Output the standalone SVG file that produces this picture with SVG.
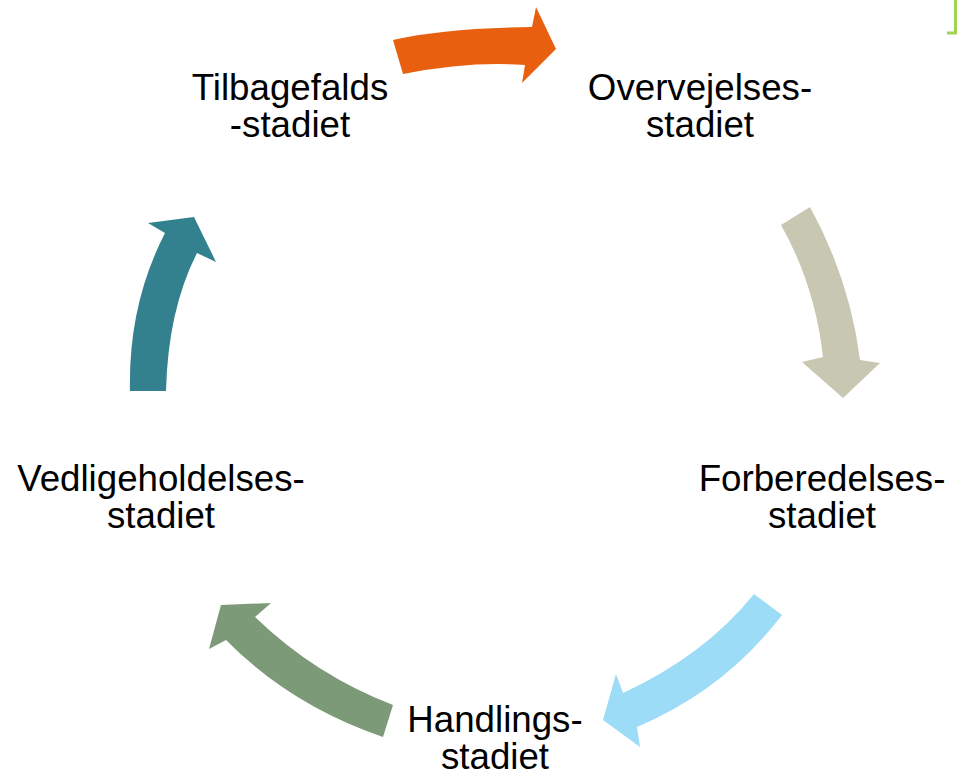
<svg xmlns="http://www.w3.org/2000/svg" width="957" height="777" viewBox="0 0 957 777">
<style>
.lbl{font-family:"Liberation Sans",Arial,sans-serif;font-size:36.7px;fill:#000;text-anchor:middle}
</style>
<rect width="957" height="777" fill="#fff"/>
<g id="corner-mark">
<path d="M955.5 0 V33 H947" fill="none" stroke="#9fd356" stroke-width="3"/>
</g>
<g id="connectors">
<path id="arrow-orange" fill="#E8600F" d="M393 40 Q445 28 532 27 L536 7 L556 49 L522 83 L525 65 Q470 61 403 74 Z"/>
<path id="arrow-beige" fill="#C8C7B1" d="M781 225 L810 207 Q850 280 860 360 L880 363 L843 398 L802 362 L823 357 Q815 285 781 225 Z"/>
<path id="arrow-blue" fill="#9DDCF7" d="M754 594 L782 615 Q725 690 637 727 L640 747 L603 720 L616 674 L623 693 Q705 655 754 594 Z"/>
<path id="arrow-green" fill="#7C9A77" d="M393 705 L383 737 Q290 705 226 640 L209 649 L221 605 L271 603 L255 617 Q315 675 393 705 Z"/>
<path id="arrow-teal" fill="#33808F" d="M130 391 L166 391 Q168 310 197 253 L216 262 L194 217 L148 223 L165 233 Q128 305 130 391 Z"/>
</g>
<g id="node-tilbagefald"><text class="lbl" x="290" y="100">Tilbagefalds</text><text class="lbl" x="290" y="137">-stadiet</text></g>
<g id="node-overvejelse"><text class="lbl" x="700" y="100">Overvejelses-</text><text class="lbl" x="700" y="137">stadiet</text></g>
<g id="node-forberedelse"><text class="lbl" x="822" y="491">Forberedelses-</text><text class="lbl" x="822" y="528">stadiet</text></g>
<g id="node-handling"><text class="lbl" x="495" y="732">Handlings-</text><text class="lbl" x="495" y="769">stadiet</text></g>
<g id="node-vedligehold"><text class="lbl" x="161" y="491">Vedligeholdelses-</text><text class="lbl" x="161" y="528">stadiet</text></g>
</svg>
